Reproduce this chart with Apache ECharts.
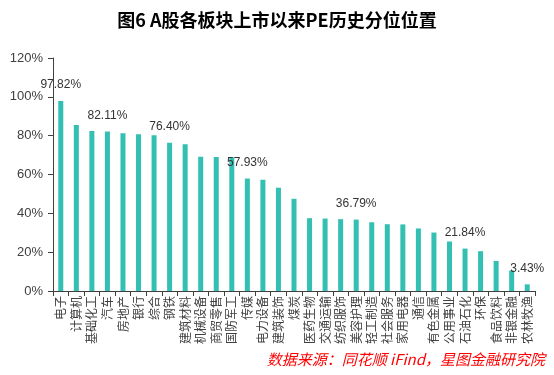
<!DOCTYPE html>
<html><head><meta charset="utf-8">
<script src="https://cdn.jsdelivr.net/npm/echarts@6/dist/echarts.min.js"></script>
<style>html,body{margin:0;padding:0;background:#fff;}#c{width:554px;height:375px;}</style>
</head><body><div id="c"></div>
<script>
const categories = ['电子','计算机','基础化工','汽车','房地产','银行','综合','钢铁','建筑材料','机械设备','商贸零售','国防军工','传媒','电力设备','建筑装饰','煤炭','医药生物','交通运输','纺织服饰','美容护理','轻工制造','社会服务','家用电器','通信','有色金属','公用事业','石油石化','环保','食品饮料','非银金融','农林牧渔'];
const values = [97.82,85.5,82.4,82.11,81.2,80.7,80.2,76.40,75.6,69.2,69.0,68.9,57.93,57.3,53.2,47.5,37.5,37.3,37.0,36.79,35.4,34.4,34.3,32.2,30.1,25.5,21.84,20.5,15.5,10.5,3.43];
const labeledIdx = [0,3,7,12,19,26,30];
const yTicks = {min:0, max:120, interval:20};

const chart = echarts.init(document.getElementById('c'));
const data = values.map((v,i)=>({value:v, label:{show: labeledIdx.includes(i)}}));
chart.setOption({
  animation:false,
  title:{text:'图6 A股各板块上市以来PE历史分位位置', left:'center', top:6,
    textStyle:{fontFamily:'Noto Sans CJK SC', fontSize:18, fontWeight:'bold', color:'#000'}},
  graphic:[{type:'text', right:9, top:352, style:{text:'数据来源：同花顺 iFind，星图金融研究院', fill:'#ff0000',
    font:'italic 15px "Noto Sans CJK SC"'}}],
  grid:{left:53, right:19, top:58, bottom:84},
  xAxis:{type:'category', data:categories,
    axisLine:{lineStyle:{color:'#404040'}},
    axisTick:{show:true, length:5, lineStyle:{color:'#404040'}},
    axisLabel:{rotate:90, interval:0, fontSize:12, color:'#404040', margin:5, fontFamily:'Noto Sans CJK SC'}},
  yAxis:{type:'value', min:yTicks.min, max:yTicks.max, interval:yTicks.interval,
    splitLine:{show:false},
    axisLine:{show:true, lineStyle:{color:'#404040'}},
    axisTick:{show:true, length:5, lineStyle:{color:'#404040'}},
    axisLabel:{formatter:'{value}%', fontSize:13, color:'#404040', margin:10, fontFamily:'Liberation Sans'}},
  series:[{type:'bar', data:data, barWidth:5,
    itemStyle:{color:'#33BFB1'},
    label:{position:'top', distance:10, fontSize:12, color:'#333', fontFamily:'Liberation Sans',
      formatter:p=>p.value.toFixed(2)+'%'}}]
});
</script></body></html>
